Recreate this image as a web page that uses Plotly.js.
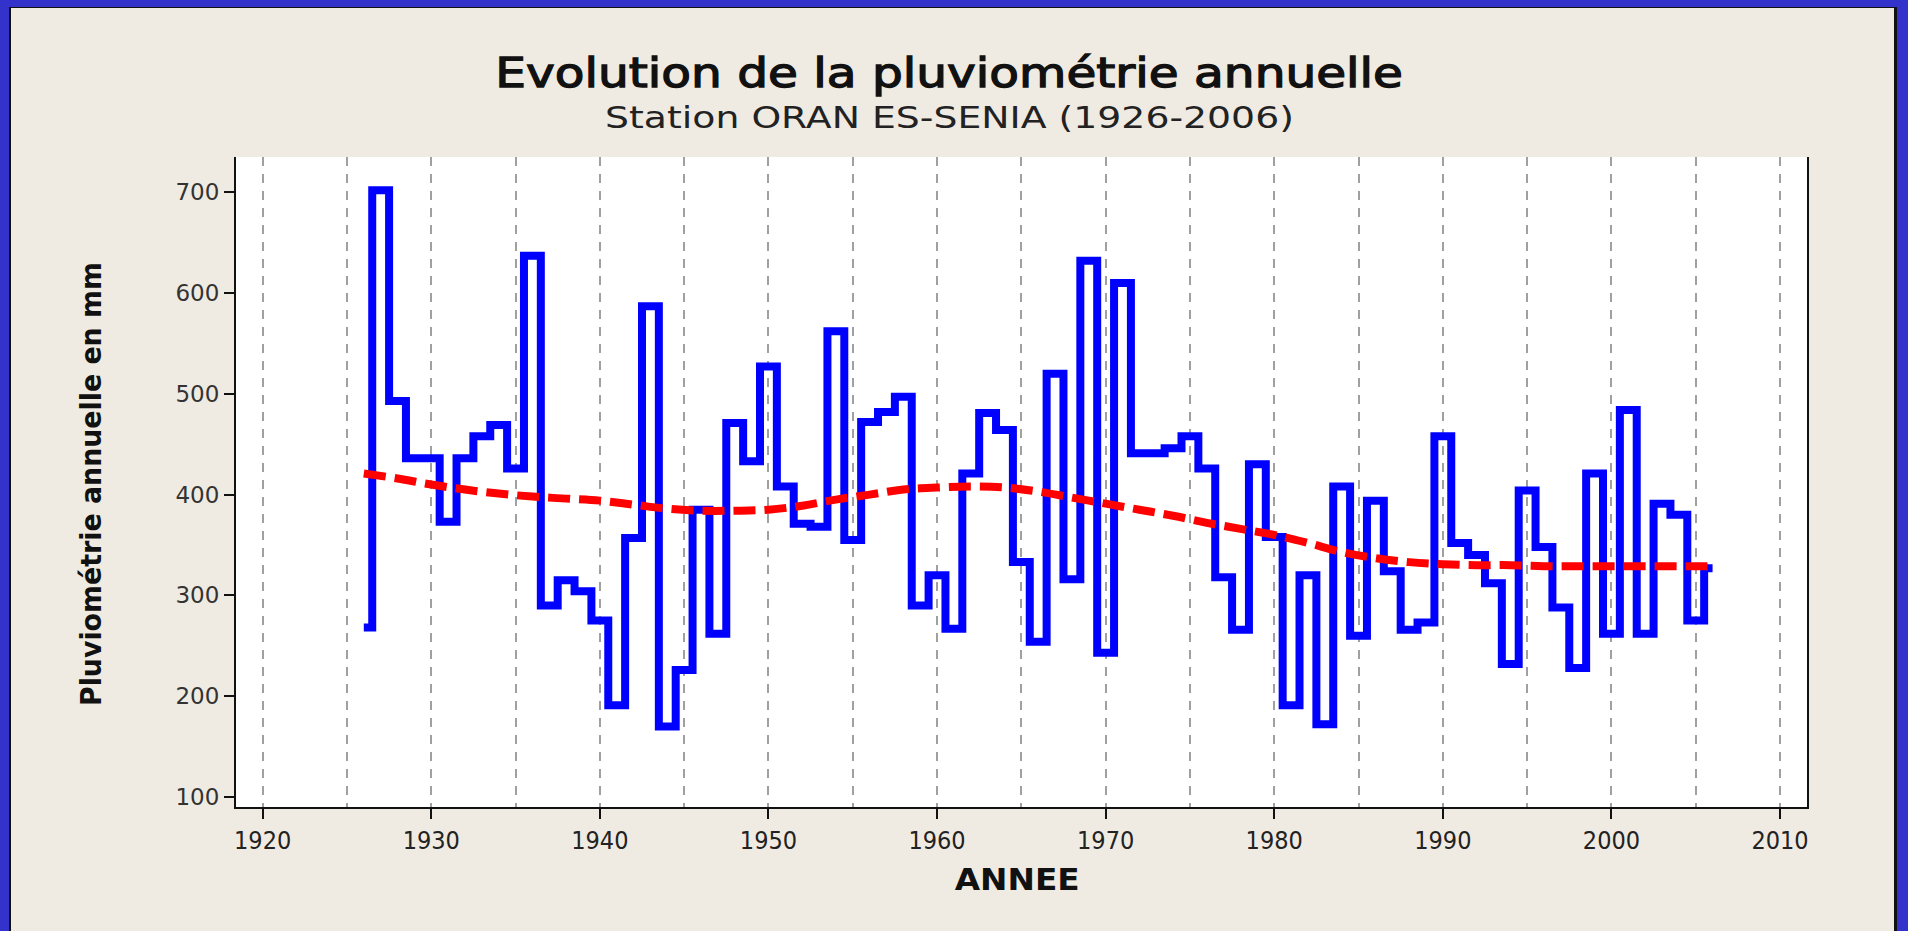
<!DOCTYPE html>
<html>
<head>
<meta charset="utf-8">
<script src="https://cdn.plot.ly/plotly-3.0.1.min.js"></script>
<style>
  html, body { margin: 0; padding: 0; width: 1908px; height: 931px; overflow: hidden; background: #3333cc; }
  #frame { position: absolute; left: 9px; top: 7px; width: 1883px; height: 930px;
           background: #f0ebe2; border-left: 2px solid #111; border-top: 1px solid #111; border-right: 3px solid #111; }
  #chart { position: absolute; left: 0; top: 0; width: 1908px; height: 931px; }
</style>
</head>
<body>
<div id="frame"></div>
<div id="chart"></div>
<script>
// Années
const years = [];
for (let y = 1926; y <= 2006; y++) years.push(y);

// Pluviométrie annuelle (mm)
const rainfall = [
  268, 702, 493, 436, 436, 373, 436, 458, 469, 426,   // 1926-1935
  637, 290, 315, 304, 275, 191, 357, 587, 170, 226,   // 1936-1945
  385, 262, 471, 433, 527, 408, 371, 368, 562, 355,   // 1946-1955
  472, 482, 497, 290, 320, 267, 421, 481, 464, 333,   // 1956-1965
  254, 520, 316, 632, 243, 610, 441, 441, 446, 458,   // 1966-1975
  426, 318, 266, 430, 358, 191, 320, 172, 408, 260,   // 1976-1985
  394, 324, 266, 273, 458, 352, 340, 312, 232, 404,   // 1986-1995
  348, 288, 228, 421, 262, 484, 262, 391, 380, 275,   // 1996-2005
  327                                                  // 2006
];

// Courbe de tendance (lissage)
const trendYears = [1926, 1928, 1930, 1932, 1934, 1936, 1938, 1940, 1942, 1944, 1946, 1948, 1950,
                    1952, 1954, 1956, 1958, 1960, 1962, 1964, 1966, 1968, 1970, 1972, 1974, 1976,
                    1978, 1980, 1982, 1984, 1986, 1988, 1990, 1992, 1994, 1996, 1998, 2000, 2002,
                    2004, 2006];
const trendValues = [421, 416, 410, 405, 401, 398, 396, 394, 390, 386, 384, 384, 385,
                     389, 395, 400, 405, 407, 408, 407, 403, 397, 391, 385, 379, 372,
                     366, 360, 352, 343, 337, 333, 331, 330, 330, 329, 329, 329, 329,
                     329, 329];

const xTickVals = [1920, 1930, 1940, 1950, 1960, 1970, 1980, 1990, 2000, 2010];
const yTickVals = [100, 200, 300, 400, 500, 600, 700];

const titleText = "Evolution de la pluviométrie annuelle";
const subtitleText = "Station ORAN ES-SENIA (1926-2006)";
const xTitle = "ANNEE";
const yTitle = "Pluviométrie annuelle en mm";

const traces = [
  {
    x: years, y: rainfall, type: 'scatter', mode: 'lines',
    line: { shape: 'hvh', color: '#0000ff', width: 8 },
    hoverinfo: 'x+y'
  },
  {
    x: trendYears, y: trendValues, type: 'scatter', mode: 'lines',
    line: { shape: 'spline', color: '#ff0000', width: 8, dash: '22px,9px' },
    hoverinfo: 'x+y'
  }
];

const cond = 'DejaVu Sans Condensed, DejaVu Sans, sans-serif';
const wide = 'DejaVu Sans, sans-serif';

const layout = {
  width: 1908, height: 931,
  margin: { l: 236, r: 101, t: 157, b: 124 },
  paper_bgcolor: 'rgba(0,0,0,0)',
  plot_bgcolor: '#ffffff',
  showlegend: false,
  xaxis: {
    range: [1918.42, 2011.6],
    tickvals: xTickVals,
    ticktext: xTickVals.map(String),
    ticks: 'outside', ticklen: 10, tickwidth: 2, tickcolor: '#111',
    showline: true, linecolor: '#111', linewidth: 2,
    showgrid: true, gridcolor: '#a0a0a0', gridwidth: 2, griddash: '9px,8px',
    minor: { dtick: 5, tick0: 1925, showgrid: true, gridcolor: '#a0a0a0', gridwidth: 2, griddash: '9px,8px', ticks: '' },
    tickfont: { family: cond, size: 25, color: '#222' },
    zeroline: false
  },
  yaxis: {
    range: [90, 735],
    tickvals: yTickVals,
    ticktext: yTickVals.map(String),
    ticks: 'outside', ticklen: 10, tickwidth: 2, tickcolor: '#111',
    showline: true, linecolor: '#111', linewidth: 2, mirror: true,
    showgrid: false, zeroline: false,
    tickfont: { family: wide, size: 23, color: '#333' }
  },
  annotations: [
    { text: titleText, xref: 'paper', yref: 'paper', x: 0.4539, y: 1.129, xanchor: 'center', yanchor: 'middle',
      showarrow: false, font: { family: wide, size: 41, color: '#111' } },
    { text: subtitleText, xref: 'paper', yref: 'paper', x: 0.4539, y: 1.06, xanchor: 'center', yanchor: 'middle',
      showarrow: false, font: { family: wide, size: 30, color: '#222' } },
    { text: xTitle, xref: 'paper', yref: 'paper', x: 0.497, y: -0.111, xanchor: 'center', yanchor: 'middle',
      showarrow: false, font: { family: cond, size: 31, color: '#111', weight: 'bold' } },
    { text: yTitle, xref: 'paper', yref: 'paper', x: -0.0923, y: 0.497, xanchor: 'center', yanchor: 'middle',
      textangle: -90, showarrow: false, font: { family: cond, size: 29, color: '#111', weight: 'bold' } }
  ]
};

// Target text lengths (px) measured on the reference, used to stretch the text horizontally
const targetLengths = [908, 689, 125, 444];
const extraStroke = [1.3, 0, 0, 0];

Plotly.newPlot('chart', traces, layout, { displayModeBar: false, staticPlot: true }).then(function (gd) {
  const texts = gd.querySelectorAll('.annotation-text');
  texts.forEach(function (t, i) {
    const w = t.getBBox().width;
    if (w > 0 && targetLengths[i]) {
      const s = targetLengths[i] / w;
      t.style.transformBox = 'fill-box';
      t.style.transformOrigin = 'center';
      t.style.transform = 'scaleX(' + s.toFixed(4) + ')';
    }
    if (extraStroke[i]) {
      t.style.stroke = '#111';
      t.style.strokeWidth = extraStroke[i] + 'px';
    }
  });
});
</script>
</body>
</html>
